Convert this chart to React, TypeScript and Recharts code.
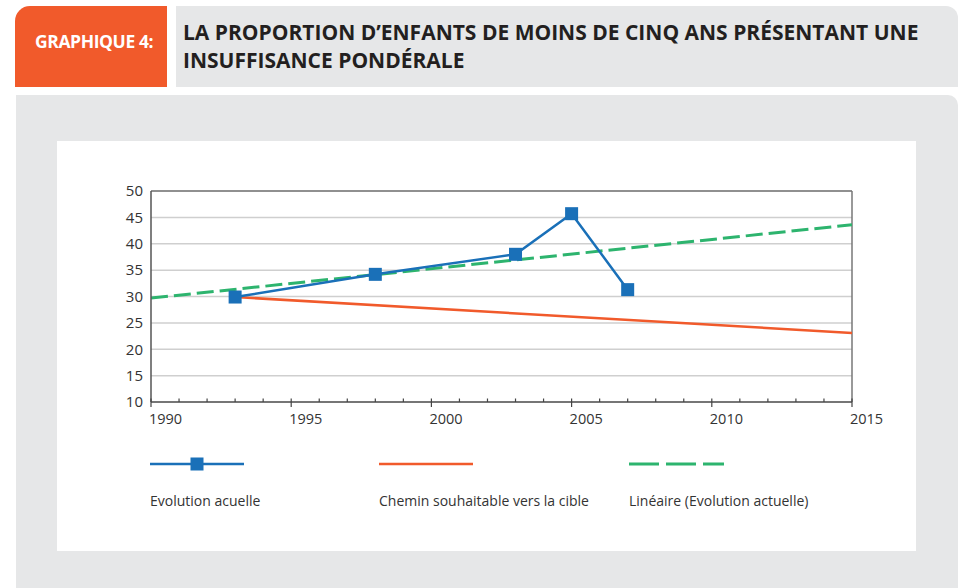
import React from "react";
import {
  LineChart,
  Line,
  XAxis,
  YAxis,
  CartesianGrid,
  ReferenceLine,
} from "recharts";

// Evolution acuelle (mesures)
const evolutionYears = [1993, 1998, 2003, 2005, 2007];
const evolutionValues = [29.9, 34.2, 38.0, 45.7, 31.3];

// Chemin souhaitable vers la cible
const targetYears = [1993, 2015];
const targetValues = [29.9, 23.1];

// Linéaire (Evolution actuelle)
const trendYears = [1990, 2015];
const trendValues = [29.7, 43.6];

const yTicks = [10, 15, 20, 25, 30, 35, 40, 45, 50];
const xTicks = Array.from({ length: 26 }, (_, i) => 1990 + i);

const legendLabels = [
  "Evolution acuelle",
  "Chemin souhaitable vers la cible",
  "Linéaire (Evolution actuelle)",
];

const BLUE = "#1a70b8";
const ORANGE = "#f15a2b";
const GREEN = "#2db46e";
const FONT = "'Open Sans', 'Liberation Sans', sans-serif";

const evolutionData = evolutionYears.map((year, i) => ({ year, value: evolutionValues[i] }));
const targetData = targetYears.map((year, i) => ({ year, value: targetValues[i] }));
const trendData = trendYears.map((year, i) => ({ year, value: trendValues[i] }));

const SquareDot = (props: any) => {
  const { cx, cy } = props;
  if (cx == null || cy == null) return null;
  return <rect x={cx - 6.5} y={cy - 6.5} width={13} height={13} fill={BLUE} />;
};

// labels start at the tick, as in the original
const YearTick = (props: any) => {
  const { x, y, payload } = props;
  const major = payload.value % 5 === 0;
  return (
    <g>
      <line x1={x} x2={x} y1={y - 3.5} y2={major ? y + 5 : y} stroke="#444" strokeWidth={1.2} />
      {major && (
        <text x={x - 2} y={y + 22} textAnchor="start" fontSize={14.5} fill="#333" fontFamily={FONT}>
          {payload.value}
        </text>
      )}
    </g>
  );
};

export default function App() {
  return (
    <div
      style={{
        position: "absolute",
        left: 0,
        top: 0,
        width: 958,
        height: 588,
        background: "#fff",
        overflow: "hidden",
        fontFamily: FONT,
      }}
    >
      {/* header */}
      <div
        style={{
          position: "absolute",
          left: 15,
          top: 6,
          width: 152,
          height: 81,
          background: ORANGE,
          borderTopLeftRadius: 15,
        }}
      >
        <div
          style={{
            position: "absolute",
            left: 20,
            top: 23,
            color: "#fff",
            fontWeight: 700,
            fontSize: 17.5,
            whiteSpace: "nowrap",
            letterSpacing: -0.4,
          }}
        >
          GRAPHIQUE 4:
        </div>
      </div>
      <div
        style={{
          position: "absolute",
          left: 176,
          top: 6,
          width: 782,
          height: 81,
          background: "#e6e7e8",
          borderTopRightRadius: 12,
        }}
      >
        <div
          style={{
            position: "absolute",
            left: 7,
            top: 12,
            color: "#231f20",
            fontWeight: 700,
            fontSize: 21,
            lineHeight: "28px",
            whiteSpace: "nowrap",
            letterSpacing: 0,
          }}
        >
          LA PROPORTION D’ENFANTS DE MOINS DE CINQ ANS PRÉSENTANT UNE
          <br />
          INSUFFISANCE PONDÉRALE
        </div>
      </div>

      {/* panel */}
      <div
        style={{
          position: "absolute",
          left: 16,
          top: 95,
          width: 942,
          height: 493,
          background: "#e6e7e8",
          borderTopRightRadius: 10,
        }}
      />
      <div
        style={{
          position: "absolute",
          left: 57,
          top: 141,
          width: 859,
          height: 410,
          background: "#fff",
        }}
      >
        <LineChart
          width={859}
          height={410}
          margin={{ top: 50, right: 64, bottom: 119, left: 50 }}
        >
          <CartesianGrid vertical={false} stroke="#cfcfcf" strokeWidth={1.5} />
          <XAxis
            type="number"
            dataKey="year"
            domain={[1990, 2015]}
            ticks={xTicks}
            interval={0}
            allowDataOverflow
            tickLine={false}
            tickSize={0}
            tickMargin={0}
            height={30}
            stroke="#555"
            strokeWidth={1.5}
            tick={<YearTick />}
          />
          <YAxis
            type="number"
            domain={[10, 50]}
            ticks={yTicks}
            interval={0}
            width={44}
            tickLine={false}
            tickSize={4}
            tickMargin={4}
            stroke="#555"
            strokeWidth={1.5}
            tick={{ fill: "#333", fontSize: 15, fontFamily: FONT }}
          />
          <ReferenceLine y={50} stroke="#777" strokeWidth={1.5} />
          <ReferenceLine x={2015} stroke="#777" strokeWidth={1.5} />
          <Line
            data={trendData}
            dataKey="value"
            stroke={GREEN}
            strokeWidth={3}
            strokeDasharray="17 6"
            dot={false}
            activeDot={false}
            isAnimationActive={false}
          />
          <Line
            data={targetData}
            dataKey="value"
            stroke={ORANGE}
            strokeWidth={2.5}
            dot={false}
            activeDot={false}
            isAnimationActive={false}
          />
          <Line
            data={evolutionData}
            dataKey="value"
            stroke={BLUE}
            strokeWidth={2.5}
            dot={<SquareDot />}
            activeDot={false}
            isAnimationActive={false}
          />
        </LineChart>

        {/* legend */}
        {[93, 322, 572].map((left, i) => (
          <div key={i} style={{ position: "absolute", left, top: 316 }}>
            <svg width={100} height={14} style={{ display: "block" }}>
              {i === 0 && (
                <>
                  <line x1={0} x2={94} y1={7} y2={7} stroke={BLUE} strokeWidth={2.5} />
                  <rect x={40.5} y={0.5} width={13} height={13} fill={BLUE} />
                </>
              )}
              {i === 1 && <line x1={0} x2={94} y1={7} y2={7} stroke={ORANGE} strokeWidth={2.5} />}
              {i === 2 && (
                <line x1={0} x2={95} y1={7} y2={7} stroke={GREEN} strokeWidth={3} strokeDasharray="30 7" />
              )}
            </svg>
            <div
              style={{
                marginTop: 20,
                fontSize: 14,
                color: "#333",
                whiteSpace: "nowrap",
              }}
            >
              {legendLabels[i]}
            </div>
          </div>
        ))}
      </div>
    </div>
  );
}
